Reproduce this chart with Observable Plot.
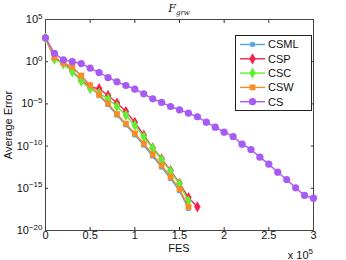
<!DOCTYPE html>
<html><head><meta charset="utf-8">
<script src="https://cdn.jsdelivr.net/npm/d3@7"></script>
<script src="https://cdn.jsdelivr.net/npm/@observablehq/plot@0.6"></script>
<style>
body{margin:0;background:#fff}
svg{font-family:"Liberation Sans",Arial,Helvetica,sans-serif}
</style>
</head><body><div id="chart"></div>
<script>
// ---- data (log10 of average error, sampled every 1e4 FES) ----
const series = ["CSML", "CSP", "CSC", "CSW", "CS"];
const colors = ["#4ea4e6", "#f5224e", "#62ee36", "#fb8a29", "#a85af4"];
const symbols = ["square", "diamond", "diamond", "square", "circle"];
const radii = [2.6, 3.4, 3.4, 3.3, 3.6];
const fesStep = 1e4;
const logCSML = [2.8, 0.45, -0.2, -0.7, -1.7, -2.9, -4.0, -5.1, -6.35, -7.5, -8.7, -9.9, -11.2, -12.5, -13.85, -15.3, -17.4];
const logCSP  = [2.8, 0.35, -0.2, -1.1, -2.2, -3.0, -3.2, -4.0, -4.9, -5.9, -7.2, -8.7, -10.2, -11.5, -12.9, -14.4, -16.1, -17.2];
const logCSC  = [2.8, 0.3, -0.25, -1.2, -2.3, -3.2, -3.75, -4.4, -5.3, -6.35, -7.55, -8.9, -10.25, -11.6, -13.0, -14.5, -16.5];
const logCSW  = [2.8, 0.5, -0.15, -0.6, -1.65, -2.8, -3.9, -4.95, -6.2, -7.35, -8.5, -9.7, -11.0, -12.3, -13.65, -15.1, -17.2];
const logCS   = [2.83, 1.0, 0.22, 0.0, -0.22, -0.75, -1.28, -1.87, -2.38, -2.82, -3.25, -3.80, -4.40, -4.83, -5.31, -5.70, -6.10, -6.53, -7.17, -7.76, -8.35, -8.86, -9.77, -10.40, -11.31, -12.14, -13.09, -13.96, -14.94, -15.85, -16.17];
const xTicks = [0, 50000, 100000, 150000, 200000, 250000, 300000];
const xTickLabels = ["0", "0.5", "1", "1.5", "2", "2.5", "3"];
const yExponents = [-20, -15, -10, -5, 0, 5];
const title = "F", titleSub = "grw";
const xLabel = "FES", yLabel = "Average Error";
const xMultiplier = "x 10", xMultiplierExp = "5";

const logs = [logCSML, logCSP, logCSC, logCSW, logCS];
const data = series.map((s, k) => logs[k].map((v, i) => ({series: s, fes: i * fesStep, err: Math.pow(10, v)})));
const yTicks = yExponents.map(e => Math.pow(10, e));

const marks = [
  Plot.axisX({ticks: xTicks, tickFormat: d => xTickLabels[xTicks.indexOf(d)], tickSize: -3, tickPadding: 4, label: null, stroke: "#333"}),
  Plot.axisX({anchor: "top", ticks: xTicks, tickSize: -3, tickFormat: () => "", label: null, stroke: "#333"}),
  Plot.axisY({ticks: yTicks, tickFormat: d => String(Math.round(Math.log10(d))), tickSize: -3, tickPadding: 6, label: null, stroke: "#333"}),
  Plot.axisY({anchor: "right", ticks: yTicks, tickSize: -3, tickFormat: () => "", label: null, stroke: "#333"}),
  Plot.frame({stroke: "#444"})
];
series.forEach((s, k) => {
  marks.push(Plot.line(data[k], {x: "fes", y: "err", stroke: colors[k], strokeWidth: 1.4}));
  marks.push(Plot.dot(data[k], {x: "fes", y: "err", fill: colors[k], symbol: symbols[k], r: radii[k]}));
});

const plot = Plot.plot({
  width: 346, height: 260,
  marginLeft: 45, marginRight: 33, marginTop: 19, marginBottom: 30,
  style: {fontFamily: '"Liberation Sans",Arial,sans-serif', fontSize: "11px", color: "#111", background: "#fff"},
  x: {domain: [0, 300000]},
  y: {type: "log", domain: [1e-20, 1e5]},
  marks
});
document.getElementById("chart").appendChild(plot);

const svg = d3.select(plot);
// superscript exponents on y tick labels
svg.selectAll('g[aria-label="y-axis tick label"] text').each(function() {
  const t = d3.select(this);
  const raw = t.text();
  if (!raw) return;
  const e = raw.replace("-", "\u2212");
  t.text("10");
  t.append("tspan").attr("dy", "-0.55em").attr("font-size", "8px").text(e);
});
// axis labels
svg.append("text").attr("x", 179).attr("y", 252).attr("text-anchor", "middle").attr("font-size", "11px").attr("fill", "#111").text(xLabel);
svg.append("text").attr("transform", "translate(12,125) rotate(-90)").attr("text-anchor", "middle").attr("font-size", "11px").attr("fill", "#111").text(yLabel);
// title
const tt = svg.append("text").attr("x", 179).attr("y", 12).attr("text-anchor", "middle")
  .attr("font-family", '"DejaVu Serif","Liberation Serif",serif').attr("font-style", "italic").attr("font-size", "11px").attr("fill", "#111");
tt.append("tspan").text(title);
tt.append("tspan").attr("dy", "2.5").attr("font-size", "7px").text(titleSub);
// x multiplier
const xm = svg.append("text").attr("x", 313).attr("y", 259).attr("text-anchor", "end").attr("font-size", "11px").attr("fill", "#111");
xm.append("tspan").text(xMultiplier);
xm.append("tspan").attr("dy", "-5").attr("font-size", "8px").text(xMultiplierExp);
// legend
const lg = svg.append("g");
lg.append("rect").attr("x", 235.5).attr("y", 35.5).attr("width", 76).attr("height", 75).attr("fill", "#fff").attr("stroke", "#222");
const symMap = {square: d3.symbolSquare, diamond: d3.symbolDiamond, circle: d3.symbolCircle};
series.forEach((s, k) => {
  const y = 44.5 + k * 14.3;
  lg.append("line").attr("x1", 240).attr("x2", 265).attr("y1", y).attr("y2", y).attr("stroke", colors[k]).attr("stroke-width", 1.4);
  lg.append("path").attr("transform", `translate(252.5,${y})`).attr("d", d3.symbol(symMap[symbols[k]], Math.PI * radii[k] * radii[k])()).attr("fill", colors[k]);
  lg.append("text").attr("x", 268).attr("y", y).attr("dy", "0.36em").attr("text-anchor", "start").attr("font-size", "11px").attr("fill", "#111").text(s);
});
</script>
</body></html>
